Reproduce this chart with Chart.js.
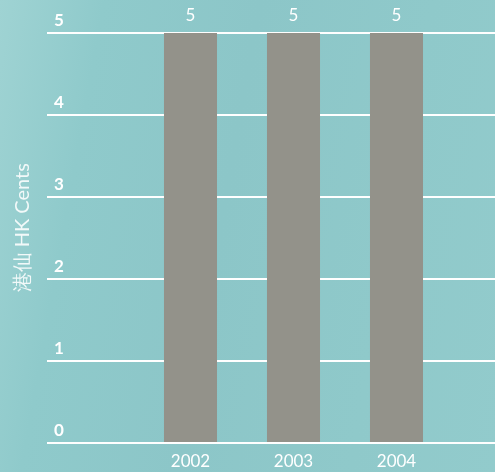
<!DOCTYPE html>
<html>
<head>
<meta charset="utf-8">
<script src="https://cdn.jsdelivr.net/npm/chart.js@4"></script>
<style>
  html, body { margin: 0; padding: 0; }
  body {
    width: 495px; height: 472px; overflow: hidden;
    background: linear-gradient(100deg, #9fd3d3 0%, #8fcacb 18%, #8cc6c8 45%, #8fc9ca 75%, #92cbcc 100%);
  }
  #wrap { position: relative; width: 495px; height: 472px; }
</style>
</head>
<body>
<div id="wrap"><canvas id="c"></canvas></div>
<script>
const categories = ['2002', '2003', '2004'];
const values = [5, 5, 5];
const yTicks = [0, 1, 2, 3, 4, 5];
const yTitle = '港仙 HK Cents';

const barLabels = {
  id: 'barLabels',
  afterDatasetsDraw(chart) {
    const ctx = chart.ctx;
    const meta = chart.getDatasetMeta(0);
    ctx.save();
    ctx.fillStyle = '#ffffff';
    ctx.font = '17px Lato';
    ctx.textAlign = 'center';
    ctx.textBaseline = 'middle';
    meta.data.forEach((bar, i) => {
      ctx.fillText(String(values[i]), bar.x, bar.y - 17);
    });
    ctx.restore();
  }
};

new Chart(document.getElementById('c'), {
  type: 'bar',
  data: {
    labels: categories,
    datasets: [{
      data: values,
      backgroundColor: '#93928a',
      borderWidth: 0,
      barPercentage: 1,
      categoryPercentage: 0.515,
      yAxisID: 'y'
    }]
  },
  options: {
    responsive: true,
    maintainAspectRatio: false,
    animation: false,
    events: [],
    layout: { padding: { top: 33, left: 0, right: 0, bottom: 0 } },
    plugins: { legend: { display: false }, tooltip: { enabled: false } },
    scales: {
      x: {
        grid: { display: false, drawTicks: false },
        border: { display: false },
        ticks: { color: '#ffffff', font: { family: 'Lato', size: 17 }, padding: 8 },
        afterFit(s) { s.height = 29; }
      },
      y: {
        position: 'left',
        min: 0, max: 5,
        afterBuildTicks(s) { s.ticks = yTicks.map(v => ({ value: v })); },
        grid: { color: '#ffffff', lineWidth: 2, tickColor: '#ffffff', tickWidth: 2, tickLength: 92, drawTicks: true },
        border: { display: false },
        ticks: {
          color: '#ffffff',
          font: { family: 'Lato', size: 17, weight: 'bold' },
          mirror: true,
          padding: -85,
          crossAlign: 'near',
          labelOffset: -12
        },
        title: {
          display: true,
          text: '    ' + yTitle,
          color: 'rgba(255,255,255,0.88)',
          font: { family: 'Lato', size: 20 },
          padding: { top: 11, bottom: 0 }
        },
        afterFit(s) { s.width = 139; }
      },
      y2: {
        position: 'right',
        min: 0, max: 5,
        afterBuildTicks(s) { s.ticks = yTicks.map(v => ({ value: v })); },
        grid: { drawOnChartArea: false, color: '#ffffff', lineWidth: 2, tickColor: '#ffffff', tickWidth: 2, tickLength: 47, drawTicks: true },
        border: { display: false },
        ticks: { display: false },
        afterFit(s) { s.width = 47; }
      }
    }
  },
  plugins: [barLabels]
});
</script>
</body>
</html>
